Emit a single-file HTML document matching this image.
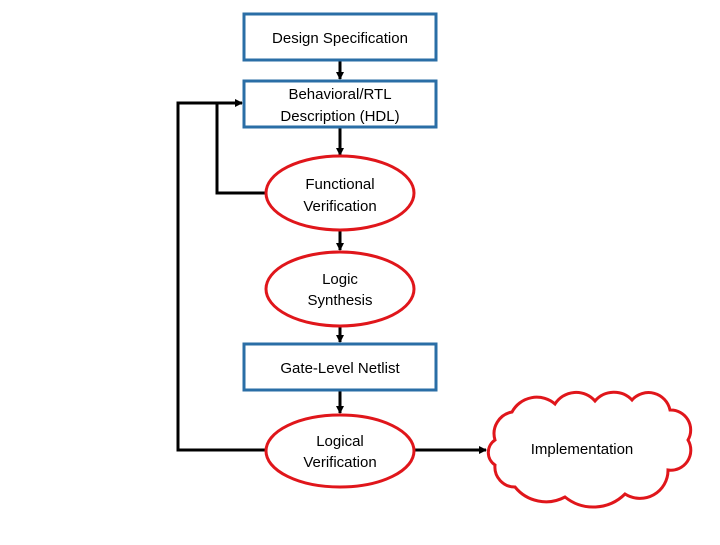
<!DOCTYPE html>
<html><head><style>body{margin:0;background:#fff}svg text{font-family:"Liberation Sans",sans-serif;font-size:15px;fill:#000}</style></head><body>
<svg width="720" height="540" xmlns="http://www.w3.org/2000/svg">
<defs><marker id="a" markerWidth="8" markerHeight="8" refX="7" refY="4" orient="auto" markerUnits="userSpaceOnUse"><path d="M0,0 L8,4 L0,8z" fill="#000"/></marker></defs>
<g stroke="#000" stroke-width="3" fill="none">
<line x1="340" y1="60" x2="340" y2="79" marker-end="url(#a)"/>
<line x1="340" y1="127" x2="340" y2="155" marker-end="url(#a)"/>
<line x1="340" y1="230" x2="340" y2="250" marker-end="url(#a)"/>
<line x1="340" y1="326" x2="340" y2="342" marker-end="url(#a)"/>
<line x1="340" y1="390" x2="340" y2="413" marker-end="url(#a)"/>
<polyline points="266,193 217,193 217,103"/>
<polyline points="266,450 178,450 178,103 242,103" marker-end="url(#a)"/>
<line x1="414" y1="450" x2="486" y2="450" marker-end="url(#a)"/>
</g>
<g fill="#fff" stroke="#2a6ea6" stroke-width="3">
<rect x="244" y="14" width="192" height="46"/>
<rect x="244" y="81" width="192" height="46"/>
<rect x="244" y="344" width="192" height="46"/>
</g>
<g fill="#fff" stroke="#e0161b" stroke-width="3">
<ellipse cx="340" cy="193" rx="74" ry="37"/>
<ellipse cx="340" cy="289" rx="74" ry="37"/>
<ellipse cx="340" cy="451" rx="74" ry="36"/>
<path d="M495,440 A22,22 0 0 1 512,412 A28,28 0 0 1 555,404 A25,25 0 0 1 595,401 A25,25 0 0 1 632,400 A22,22 0 0 1 670,410 A20,20 0 0 1 688,440 A20,20 0 0 1 668,470 A28,28 0 0 1 625,494 A45,45 0 0 1 565,497 A40,40 0 0 1 515,487 A20,20 0 0 1 495,465 A15,15 0 0 1 495,440 Z"/>
</g>
<g text-anchor="middle">
<text x="340" y="43">Design Specification</text>
<text x="340" y="99">Behavioral/RTL</text>
<text x="340" y="121">Description (HDL)</text>
<text x="340" y="189">Functional</text>
<text x="340" y="211">Verification</text>
<text x="340" y="284">Logic</text>
<text x="340" y="305">Synthesis</text>
<text x="340" y="373">Gate-Level Netlist</text>
<text x="340" y="446">Logical</text>
<text x="340" y="467">Verification</text>
<text x="582" y="454">Implementation</text>
</g>
</svg>
</body></html>
